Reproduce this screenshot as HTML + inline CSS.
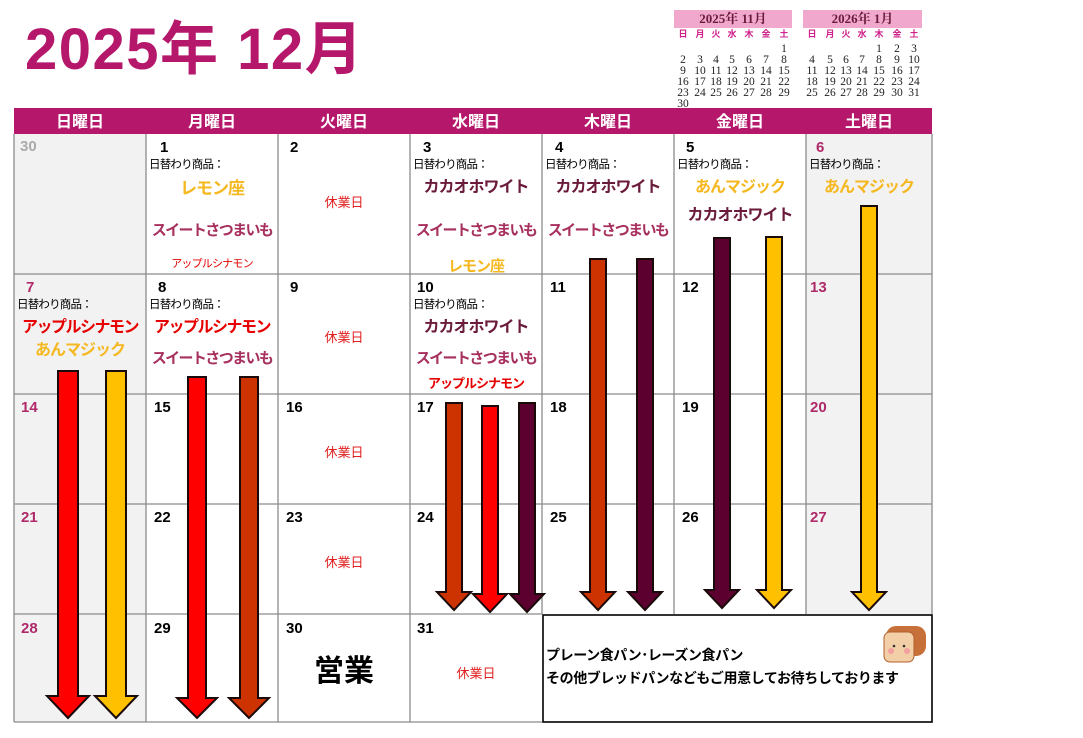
<!DOCTYPE html>
<html><head><meta charset="utf-8"><style>
body{margin:0;width:1083px;height:738px;background:#fff;position:relative;overflow:hidden;font-family:"Liberation Sans","Noto Sans CJK JP",sans-serif}
.a{position:absolute;white-space:nowrap;line-height:1}
.n{font-weight:bold;font-size:15px;color:#000}
.s{font-size:11.5px;color:#000;letter-spacing:-0.8px}
.c{text-align:center;font-weight:bold;letter-spacing:-1px}
.y{color:#f5b820}.m{color:#6a1a3a}.p{color:#a8305e;letter-spacing:-1.6px}.r{color:#e60000;letter-spacing:-1.5px}
.k{font-size:13px;color:#e02020;text-align:center}
</style></head><body>
<div class="a" style="left:25px;top:21px;font-size:58px;font-weight:bold;color:#b5176b;letter-spacing:1.5px">2025年 12月</div>

<div class="a" style="left:674px;top:10px;width:118px;height:18px;background:#f0a8cc;color:#6a1a3a;font-size:13px;font-weight:bold;text-align:center;line-height:18px;font-family:'Liberation Serif','Noto Serif CJK SC',serif">2025年 11月</div>
<div class="a" style="left:803px;top:10px;width:119px;height:18px;background:#f0a8cc;color:#6a1a3a;font-size:13px;font-weight:bold;text-align:center;line-height:18px;font-family:'Liberation Serif','Noto Serif CJK SC',serif">2026年 1月</div>
<svg class="a" style="left:0;top:0" width="1083" height="738">
<g font-family="Noto Sans CJK JP, sans-serif" font-size="9" font-weight="bold" fill="#d0208a" text-anchor="middle">
<text x="683" y="37">日</text><text x="700" y="37">月</text><text x="716" y="37">火</text><text x="732" y="37">水</text><text x="749" y="37">木</text><text x="766" y="37">金</text><text x="784" y="37">土</text>
<text x="812" y="37">日</text><text x="830" y="37">月</text><text x="846" y="37">火</text><text x="862" y="37">水</text><text x="879" y="37">木</text><text x="897" y="37">金</text><text x="914" y="37">土</text>
</g>
<g font-family="Liberation Serif, serif" font-size="11.5" fill="#222" text-anchor="middle">
<text x="784" y="52">1</text>
<text x="683" y="63">2</text><text x="700" y="63">3</text><text x="716" y="63">4</text><text x="732" y="63">5</text><text x="749" y="63">6</text><text x="766" y="63">7</text><text x="784" y="63">8</text>
<text x="683" y="74">9</text><text x="700" y="74">10</text><text x="716" y="74">11</text><text x="732" y="74">12</text><text x="749" y="74">13</text><text x="766" y="74">14</text><text x="784" y="74">15</text>
<text x="683" y="85">16</text><text x="700" y="85">17</text><text x="716" y="85">18</text><text x="732" y="85">19</text><text x="749" y="85">20</text><text x="766" y="85">21</text><text x="784" y="85">22</text>
<text x="683" y="96">23</text><text x="700" y="96">24</text><text x="716" y="96">25</text><text x="732" y="96">26</text><text x="749" y="96">27</text><text x="766" y="96">28</text><text x="784" y="96">29</text>
<text x="683" y="107">30</text>
<text x="879" y="52">1</text><text x="897" y="52">2</text><text x="914" y="52">3</text>
<text x="812" y="63">4</text><text x="830" y="63">5</text><text x="846" y="63">6</text><text x="862" y="63">7</text><text x="879" y="63">8</text><text x="897" y="63">9</text><text x="914" y="63">10</text>
<text x="812" y="74">11</text><text x="830" y="74">12</text><text x="846" y="74">13</text><text x="862" y="74">14</text><text x="879" y="74">15</text><text x="897" y="74">16</text><text x="914" y="74">17</text>
<text x="812" y="85">18</text><text x="830" y="85">19</text><text x="846" y="85">20</text><text x="862" y="85">21</text><text x="879" y="85">22</text><text x="897" y="85">23</text><text x="914" y="85">24</text>
<text x="812" y="96">25</text><text x="830" y="96">26</text><text x="846" y="96">27</text><text x="862" y="96">28</text><text x="879" y="96">29</text><text x="897" y="96">30</text><text x="914" y="96">31</text>
</g>
<rect x="14" y="108" width="918" height="26" fill="#b5176b"/>
<g font-family="Noto Sans CJK JP, sans-serif" font-size="16" font-weight="bold" fill="#fff" text-anchor="middle">
<text x="80" y="127">日曜日</text><text x="212" y="127">月曜日</text><text x="344" y="127">火曜日</text><text x="476" y="127">水曜日</text><text x="608" y="127">木曜日</text><text x="740" y="127">金曜日</text><text x="869" y="127">土曜日</text>
</g>
<rect x="14" y="134" width="132" height="588" fill="#f2f2f2"/>
<rect x="806" y="134" width="126" height="480" fill="#f2f2f2"/>
<g stroke="#8c8c8c" stroke-width="1.3" fill="none">
<path d="M14 134V722M146 134V722M278 134V722M410 134V722M542 134V614M674 134V614M806 134V614M932 134V614"/>
<path d="M14 274H932M14 394H932M14 504H932M14 614H542M14 722H542"/>
</g>
<rect x="543" y="615" width="389" height="107" fill="#fff" stroke="#000" stroke-width="1.6"/>
<g stroke="#1a0a0a" stroke-width="2" stroke-linejoin="miter">
<path fill="#ff0000" d="M58 371H78V696H89L68 718L47 696H58Z"/>
<path fill="#ffc000" d="M106 371H126V696H137L116 718L95 696H106Z"/>
<path fill="#ff0000" d="M188 377H206V698H217L197 718L177 698H188Z"/>
<path fill="#cc3300" d="M240 377H258V698H269L249 718L229 698H240Z"/>
<path fill="#cc3300" d="M446 403H462V592H471L454 610L437 592H446Z"/>
<path fill="#ff0000" d="M482 406H498V594H507L490 612L473 594H482Z"/>
<path fill="#5c0030" d="M519 403H535V594H544L527 612L510 594H519Z"/>
<path fill="#cc3300" d="M590 259H606V592H615L598 610L581 592H590Z"/>
<path fill="#5c0030" d="M637 259H653V592H662L645 610L628 592H637Z"/>
<path fill="#5c0030" d="M714 238H730V590H739L722 608L705 590H714Z"/>
<path fill="#ffc000" d="M766 237H782V590H791L774 608L757 590H766Z"/>
<path fill="#ffc000" d="M861 206H877V592H886L869 610L852 592H861Z"/>
</g>
<g>
<rect x="886" y="626" width="40" height="30" rx="10" fill="#c8703a"/>
<rect x="884" y="632" width="30" height="30" rx="6" fill="#f3cfa8" stroke="#b06030"/>
<circle cx="891" cy="651" r="3" fill="#f4a0a0"/><circle cx="907" cy="651" r="3" fill="#f4a0a0"/>
<circle cx="894" cy="646" r="1.3" fill="#333"/><circle cx="904" cy="646" r="1.3" fill="#333"/>
</g>
</svg>

<div class="a n" style="left:20px;top:139px;color:#aaa">30</div>
<div class="a n" style="left:160px;top:140px">1</div>
<div class="a n" style="left:290px;top:140px">2</div>
<div class="a n" style="left:423px;top:140px">3</div>
<div class="a n" style="left:555px;top:140px">4</div>
<div class="a n" style="left:686px;top:140px">5</div>
<div class="a n" style="left:816px;top:140px;color:#b02a6a">6</div>
<div class="a n" style="left:26px;top:280px;color:#b02a6a">7</div>
<div class="a n" style="left:158px;top:280px">8</div>
<div class="a n" style="left:290px;top:280px">9</div>
<div class="a n" style="left:417px;top:280px">10</div>
<div class="a n" style="left:550px;top:280px">11</div>
<div class="a n" style="left:682px;top:280px">12</div>
<div class="a n" style="left:810px;top:280px;color:#b02a6a">13</div>
<div class="a n" style="left:21px;top:400px;color:#b02a6a">14</div>
<div class="a n" style="left:154px;top:400px">15</div>
<div class="a n" style="left:286px;top:400px">16</div>
<div class="a n" style="left:417px;top:400px">17</div>
<div class="a n" style="left:550px;top:400px">18</div>
<div class="a n" style="left:682px;top:400px">19</div>
<div class="a n" style="left:810px;top:400px;color:#b02a6a">20</div>
<div class="a n" style="left:21px;top:510px;color:#b02a6a">21</div>
<div class="a n" style="left:154px;top:510px">22</div>
<div class="a n" style="left:286px;top:510px">23</div>
<div class="a n" style="left:417px;top:510px">24</div>
<div class="a n" style="left:550px;top:510px">25</div>
<div class="a n" style="left:682px;top:510px">26</div>
<div class="a n" style="left:810px;top:510px;color:#b02a6a">27</div>
<div class="a n" style="left:21px;top:621px;color:#b02a6a">28</div>
<div class="a n" style="left:154px;top:621px">29</div>
<div class="a n" style="left:286px;top:621px">30</div>
<div class="a n" style="left:417px;top:621px">31</div>

<div class="a s" style="left:149px;top:160px">日替わり商品：</div>
<div class="a s" style="left:413px;top:160px">日替わり商品：</div>
<div class="a s" style="left:545px;top:160px">日替わり商品：</div>
<div class="a s" style="left:677px;top:160px">日替わり商品：</div>
<div class="a s" style="left:809px;top:160px">日替わり商品：</div>
<div class="a s" style="left:17px;top:300px">日替わり商品：</div>
<div class="a s" style="left:149px;top:300px">日替わり商品：</div>
<div class="a s" style="left:413px;top:300px">日替わり商品：</div>

<div class="a c y" style="left:146px;width:132px;top:180px;font-size:17px">レモン座</div>
<div class="a c p" style="left:146px;width:132px;top:223px;font-size:15px">スイートさつまいも</div>
<div class="a c r" style="left:146px;width:132px;top:259px;font-size:11px;font-weight:normal;letter-spacing:-0.8px">アップルシナモン</div>
<div class="a k" style="left:278px;width:132px;top:196px">休業日</div>
<div class="a c m" style="left:410px;width:132px;top:180px;font-size:16px">カカオホワイト</div>
<div class="a c p" style="left:410px;width:132px;top:223px;font-size:15px">スイートさつまいも</div>
<div class="a c y" style="left:410px;width:132px;top:259px;font-size:15px">レモン座</div>
<div class="a c m" style="left:542px;width:132px;top:180px;font-size:16px">カカオホワイト</div>
<div class="a c p" style="left:542px;width:132px;top:223px;font-size:15px">スイートさつまいも</div>
<div class="a c y" style="left:674px;width:132px;top:180px;font-size:16px">あんマジック</div>
<div class="a c m" style="left:674px;width:132px;top:208px;font-size:16px">カカオホワイト</div>
<div class="a c y" style="left:806px;width:126px;top:180px;font-size:16px">あんマジック</div>

<div class="a c r" style="left:14px;width:132px;top:320px;font-size:16px">アップルシナモン</div>
<div class="a c y" style="left:14px;width:132px;top:343px;font-size:16px">あんマジック</div>
<div class="a c r" style="left:146px;width:132px;top:320px;font-size:16px">アップルシナモン</div>
<div class="a c p" style="left:146px;width:132px;top:351px;font-size:15px">スイートさつまいも</div>
<div class="a k" style="left:278px;width:132px;top:331px">休業日</div>
<div class="a c m" style="left:410px;width:132px;top:320px;font-size:16px">カカオホワイト</div>
<div class="a c p" style="left:410px;width:132px;top:351px;font-size:15px">スイートさつまいも</div>
<div class="a c r" style="left:410px;width:132px;top:377px;font-size:13px;letter-spacing:-1px">アップルシナモン</div>

<div class="a k" style="left:278px;width:132px;top:446px">休業日</div>
<div class="a k" style="left:278px;width:132px;top:556px">休業日</div>
<div class="a c" style="left:278px;width:132px;top:657px;font-size:30px;letter-spacing:0">営業</div>
<div class="a k" style="left:410px;width:132px;top:667px">休業日</div>

<div class="a" style="left:546px;top:648px;font-size:14px;font-weight:bold;letter-spacing:-0.4px">プレーン食パン･レーズン食パン</div>
<div class="a" style="left:546px;top:671px;font-size:14px;font-weight:bold;letter-spacing:-0.4px">その他ブレッドパンなどもご用意してお待ちしております</div>
</body></html>
